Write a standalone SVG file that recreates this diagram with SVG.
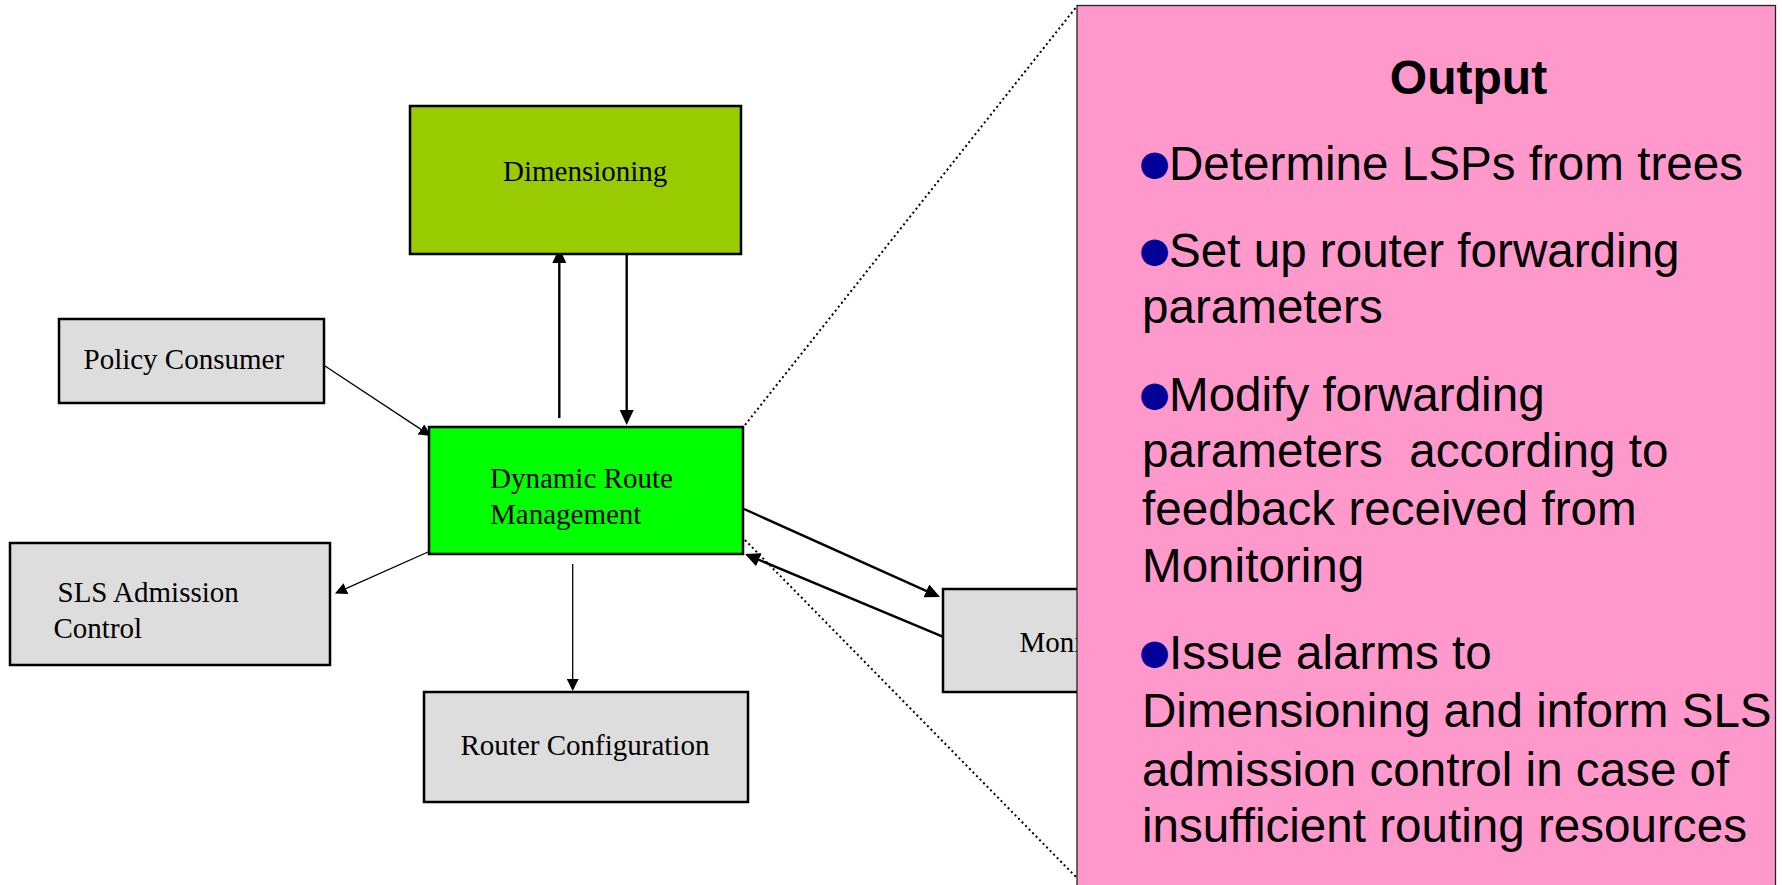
<svg xmlns="http://www.w3.org/2000/svg" width="1782" height="885" viewBox="0 0 1782 885">
<style>
.box{stroke:#000;stroke-width:2.5}
.gray{fill:#DDDDDD}
.lbl{font-family:"Liberation Serif","Times New Roman",serif;font-size:29px;fill:#000}
.thick{stroke:#000;stroke-width:2.4;fill:none}
.thin{stroke:#000;stroke-width:1.3;fill:none}
.dot{stroke:#000;stroke-width:2;fill:none;stroke-dasharray:2 3}
.pt{font-family:"Liberation Sans",Arial,sans-serif;font-size:47.6px;fill:#000}
.bul{font-family:"DejaVu Sans",sans-serif;font-size:35px;fill:#000099}
</style>
<defs>
<marker id="ah" markerUnits="userSpaceOnUse" markerWidth="16" markerHeight="14" refX="12" refY="7" orient="auto">
<path d="M0,0 L15,7 L0,14 z" fill="#000"/>
</marker>
<marker id="ahs" markerUnits="userSpaceOnUse" markerWidth="13" markerHeight="12" refX="10" refY="6" orient="auto">
<path d="M0,0 L12,6 L0,12 z" fill="#000"/>
</marker>
<clipPath id="monclip"><rect x="940" y="585" width="137" height="110"/></clipPath>
</defs>
<rect width="1782" height="885" fill="#fff"/>

<g id="connectors">
<line class="dot" x1="745" y1="425" x2="1077" y2="6"/>
<line class="dot" x1="745" y1="540" x2="1077" y2="878"/>
<line class="thick" x1="559.3" y1="418" x2="559.3" y2="251" marker-end="url(#ah)"/>
<line class="thick" x1="626.7" y1="254" x2="626.7" y2="422" marker-end="url(#ah)"/>
<line class="thin" x1="325" y1="366" x2="429.3" y2="434.9" marker-end="url(#ahs)"/>
<line class="thin" x1="428" y1="552" x2="336.8" y2="592.7" marker-end="url(#ahs)"/>
<line class="thin" x1="572.7" y1="564" x2="572.7" y2="689" marker-end="url(#ahs)"/>
<line class="thick" x1="744" y1="509" x2="937.3" y2="595.8" marker-end="url(#ah)"/>
<line class="thick" x1="942.7" y1="636.7" x2="747.8" y2="555.2" marker-end="url(#ah)"/>
</g>

<g id="dimensioning">
<rect class="box" x="410" y="106" width="331" height="148" fill="#99CC00"/>
<text class="lbl" x="503" y="181">Dimensioning</text>
</g>

<g id="policy-consumer">
<rect class="box gray" x="59" y="319" width="265" height="84"/>
<text class="lbl" x="83.5" y="368.5">Policy Consumer</text>
</g>

<g id="dynamic-route-management">
<rect class="box" x="429" y="427" width="314" height="127" fill="#00FF00"/>
<text class="lbl" x="490" y="487.5">Dynamic Route</text>
<text class="lbl" x="490" y="523.5">Management</text>
</g>

<g id="sls-admission-control">
<rect class="box" x="10" y="543" width="320" height="122" fill="#DDDDDD"/>
<text class="lbl" x="57.5" y="602">SLS Admission</text>
<text class="lbl" x="53.5" y="637.5">Control</text>
</g>

<g id="router-configuration">
<rect class="box gray" x="424" y="692" width="324" height="110"/>
<text class="lbl" x="460.5" y="755">Router Configuration</text>
</g>

<g id="monitoring">
<rect class="box gray" x="943" y="589" width="220" height="103"/>
<text class="lbl" x="1019.5" y="652" clip-path="url(#monclip)">Monitoring</text>
</g>

<g id="output-panel">
<rect x="1077" y="5.5" width="698.5" height="900" fill="#FF99CC" stroke="#222" stroke-width="1.3"/>
<text x="1468.5" y="93.5" text-anchor="middle" font-family="'Liberation Sans',Arial,sans-serif" font-size="48" font-weight="bold" fill="#000">Output</text>
<text class="bul" x="1154.5" y="175" text-anchor="middle">●</text>
<text class="pt" x="1169" y="180">Determine LSPs from trees</text>
<text class="bul" x="1154.5" y="261.7" text-anchor="middle">●</text>
<text class="pt" x="1169" y="266.7">Set up router forwarding</text>
<text class="pt" x="1142" y="322.7">parameters</text>
<text class="bul" x="1154.5" y="405.7" text-anchor="middle">●</text>
<text class="pt" x="1169" y="410.7">Modify forwarding</text>
<text class="pt" x="1142" y="466.7" xml:space="preserve">parameters  according to</text>
<text class="pt" x="1142" y="525">feedback received from</text>
<text class="pt" x="1142" y="581.7">Monitoring</text>
<text class="bul" x="1154.5" y="664.3" text-anchor="middle">●</text>
<text class="pt" x="1169" y="669.3">Issue alarms to</text>
<text class="pt" x="1142" y="727.3">Dimensioning and inform SLS</text>
<text class="pt" x="1142" y="785.7">admission control in case of</text>
<text class="pt" x="1142" y="842.3">insufficient routing resources</text>
</g>
</svg>
